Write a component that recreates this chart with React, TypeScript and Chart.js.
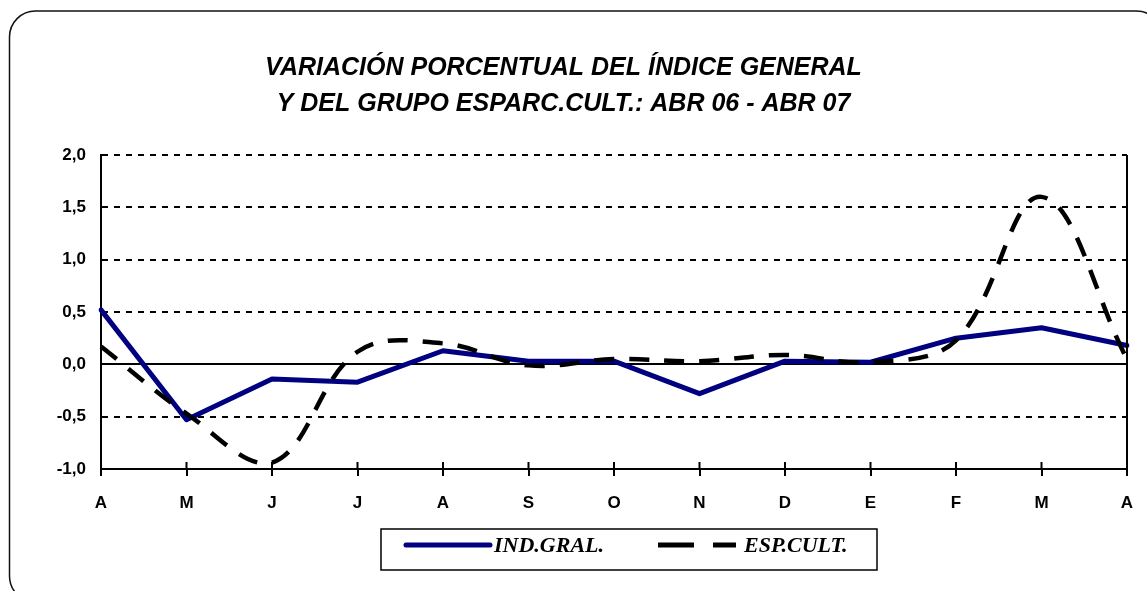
import React, { useEffect, useRef } from "react";
import { Chart, registerables } from "chart.js";

Chart.register(...registerables);

const categories = ["A", "M", "J", "J", "A", "S", "O", "N", "D", "E", "F", "M", "A"];
const indGral = [0.52, -0.53, -0.14, -0.17, 0.13, 0.03, 0.03, -0.28, 0.03, 0.02, 0.25, 0.35, 0.18];
const espCult = [0.17, -0.47, -0.94, 0.12, 0.2, -0.01, 0.05, 0.03, 0.09, 0.02, 0.23, 1.6, 0.05];
const titleLines = ["VARIACIÓN PORCENTUAL DEL ÍNDICE GENERAL", "Y DEL GRUPO ESPARC.CULT.: ABR 06 - ABR 07"];
const seriesLabels = ["IND.GRAL.", "ESP.CULT."];
const yMin = -1;
const yMax = 2;
const yStep = 0.5;

const NAVY = "#000080";
const SANS = "'Liberation Sans', Arial, sans-serif";
const SERIF = "'Liberation Serif', 'Times New Roman', serif";

const decorPlugin = {
  id: "decor",
  beforeDraw(chart: any) {
    const ctx = chart.ctx;
    ctx.save();
    // outer rounded frame
    const x = 9.5, y = 11, w = 1153, h = 591, r = 26;
    ctx.beginPath();
    ctx.moveTo(x + r, y);
    ctx.lineTo(x + w - r, y);
    ctx.arcTo(x + w, y, x + w, y + r, r);
    ctx.lineTo(x + w, y + h - r);
    ctx.arcTo(x + w, y + h, x + w - r, y + h, r);
    ctx.lineTo(x + r, y + h);
    ctx.arcTo(x, y + h, x, y + h - r, r);
    ctx.lineTo(x, y + r);
    ctx.arcTo(x, y, x + r, y, r);
    ctx.closePath();
    ctx.lineWidth = 1.5;
    ctx.strokeStyle = "#111";
    ctx.stroke();
    ctx.restore();
  },
  afterDraw(chart: any) {
    const ctx = chart.ctx;
    const area = chart.chartArea;
    const xs = chart.scales.x;
    ctx.save();
    // right border of plot area
    ctx.strokeStyle = "#000";
    ctx.lineWidth = 2;
    ctx.beginPath();
    ctx.moveTo(area.right, area.top);
    ctx.lineTo(area.right, area.bottom + 7);
    ctx.stroke();
    // upward half of the crossing tick marks
    for (let i = 0; i < categories.length; i++) {
      const px = xs.getPixelForValue(i);
      ctx.beginPath();
      ctx.moveTo(px, area.bottom - 7);
      ctx.lineTo(px, area.bottom);
      ctx.stroke();
    }
    // legend
    const lx = 381, ly = 529, lw = 496, lh = 41;
    ctx.lineWidth = 1.5;
    ctx.strokeStyle = "#000";
    ctx.strokeRect(lx, ly, lw, lh);
    const ds = chart.data.datasets;
    const cy = 545;
    ctx.lineCap = "round";
    ctx.lineWidth = 5;
    ctx.strokeStyle = ds[0].borderColor;
    ctx.beginPath();
    ctx.moveTo(406, cy);
    ctx.lineTo(490, cy);
    ctx.stroke();
    ctx.lineCap = "butt";
    ctx.lineWidth = 5;
    ctx.strokeStyle = ds[1].borderColor;
    ctx.beginPath();
    ctx.moveTo(658, cy);
    ctx.lineTo(694, cy);
    ctx.moveTo(713, cy);
    ctx.lineTo(736, cy);
    ctx.stroke();
    ctx.fillStyle = "#000";
    ctx.font = `italic bold 22px ${SERIF}`;
    ctx.textBaseline = "middle";
    ctx.textAlign = "left";
    ctx.fillText(ds[0].label, 494, cy + 1);
    ctx.fillText(ds[1].label, 744, cy + 1);
    ctx.restore();
  },
};

export default function App() {
  const ref = useRef<HTMLCanvasElement | null>(null);
  useEffect(() => {
    if (!ref.current) return;
    const chart = new Chart(ref.current, {
      type: "line",
      data: {
        labels: categories,
        datasets: [
          {
            label: seriesLabels[0],
            data: indGral,
            borderColor: NAVY,
            backgroundColor: NAVY,
            borderWidth: 5,
            tension: 0,
            pointRadius: 0,
            borderCapStyle: "round",
            borderJoinStyle: "round",
            order: 2,
          },
          {
            label: seriesLabels[1],
            data: espCult,
            borderColor: "#000",
            backgroundColor: "#000",
            borderWidth: 4.5,
            borderDash: [20, 15],
            tension: 0.38,
            pointRadius: 0,
            order: 1,
          },
        ],
      },
      options: {
        animation: false,
        responsive: false,
        events: [],
        layout: { padding: { left: 0, right: 20, top: 0, bottom: 79 } },
        plugins: {
          legend: { display: false },
          tooltip: { enabled: false },
          title: {
            display: true,
            text: titleLines,
            color: "#000",
            font: { family: SANS, size: 25, weight: "bold", style: "italic", lineHeight: 1.44 },
            padding: { top: 50, bottom: 33 },
          },
        },
        scales: {
          x: {
            type: "category",
            offset: false,
            grid: {
              drawOnChartArea: false,
              drawTicks: true,
              tickLength: 7,
              color: "#000",
              lineWidth: 2,
            },
            border: { display: true, color: "#000", width: 2 },
            ticks: {
              color: "#000",
              font: { family: SANS, size: 17, weight: "bold" },
              padding: 17,
              maxRotation: 0,
              autoSkip: false,
            },
            afterFit: (s: any) => {
              s.height = 43;
              s.paddingLeft = 0;
              s.paddingRight = 0;
            },
          },
          y: {
            min: yMin,
            max: yMax,
            grid: {
              drawTicks: false,
              color: "#000",
              lineWidth: 2,
            },
            border: {
              display: true,
              color: "#000",
              width: 2,
              dash: (c: any) => (c && c.tick && c.tick.value === 0 ? [] : [6, 6]),
            },
            ticks: {
              stepSize: yStep,
              color: "#000",
              padding: 15,
              font: { family: SANS, size: 17, weight: "bold" },
              callback: (v: any) => Number(v).toFixed(1).replace(".", ","),
            },
            afterFit: (s: any) => {
              s.width = 101;
            },
          },
        },
      },
      plugins: [decorPlugin],
    });
    return () => chart.destroy();
  }, []);
  return (
    <div style={{ position: "absolute", left: 0, top: 0, width: 1147, height: 591, background: "#fff" }}>
      <canvas ref={ref} width={1147} height={591} style={{ display: "block" }} />
    </div>
  );
}
